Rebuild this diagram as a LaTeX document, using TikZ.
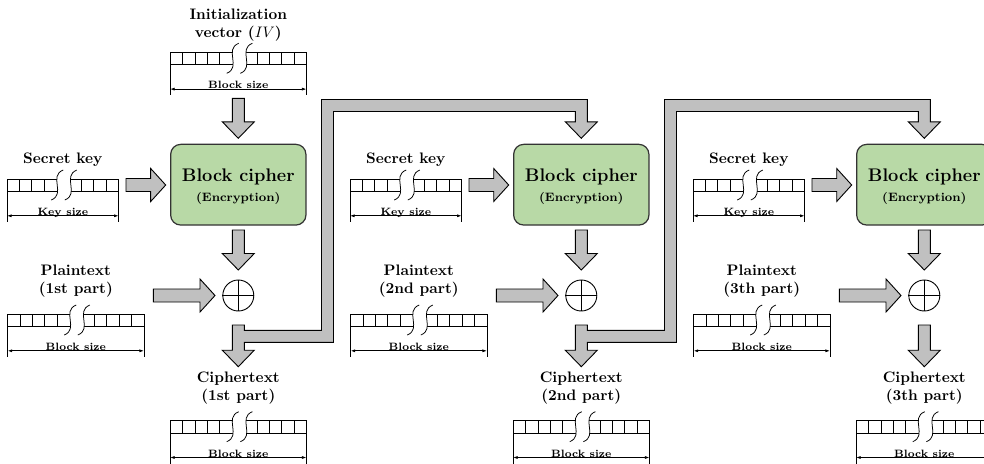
\documentclass[tikz,border=0pt]{standalone}
\usetikzlibrary{calc,arrows.meta}

% one drawing unit
\newlength\pxu
\setlength\pxu{0.6579pt}
\def\cellw{12.4}
\def\cellh{12.3}

\definecolor{cipherfill}{RGB}{184,217,166}
\definecolor{arrowfill}{RGB}{192,192,192}

\tikzset{
  regline/.style={line width=0.5pt},
  dimline/.style={line width=0.5pt,{Latex[length=3pt,width=2pt]}-{Latex[length=3pt,width=2pt]}},
  fatarrow/.style={fill=arrowfill,draw=black,line width=0.6pt,line join=miter},
  cipherbox/.style={draw=black!80,line width=0.8pt,fill=cipherfill,rounded corners=6.6pt,
    minimum width=89pt,minimum height=53.1pt,inner sep=0pt},
  lbl/.style={font=\bfseries,inner sep=0pt,anchor=base},
  sizetext/.style={font=\scriptsize\bfseries,inner sep=0pt,anchor=base},
  xorop/.style={circle,draw,line width=0.6pt,minimum size=20.4pt,inner sep=0pt}
}

% wide grey arrow pointing down, shaft top #1, tip #2
\newcommand\fatdown[2]{%
  \draw[fatarrow] let \p1=(#1), \p2=(#2) in
    (\x1-6*\pxu,\y1) -- (\x1+6*\pxu,\y1) -- (\x1+6*\pxu,\y2+16.5*\pxu)
    -- (\x1+16*\pxu,\y2+16.5*\pxu) -- (\x1,\y2) -- (\x1-16*\pxu,\y2+16.5*\pxu)
    -- (\x1-6*\pxu,\y2+16.5*\pxu) -- cycle;}

% wide grey arrow pointing right, tail #1, tip #2
\newcommand\fatright[2]{%
  \draw[fatarrow] let \p1=(#1), \p2=(#2) in
    (\x1,\y1+6.5*\pxu) -- (\x2-15*\pxu,\y1+6.5*\pxu) -- (\x2-15*\pxu,\y1+16.5*\pxu)
    -- (\x2,\y1) -- (\x2-15*\pxu,\y1-16.5*\pxu) -- (\x2-15*\pxu,\y1-6.5*\pxu)
    -- (\x1,\y1-6.5*\pxu) -- cycle;}

% output arrow with the feedback branch to the next cipher:
% #1 shaft top, #2 output tip, #3 lower bend, #4 upper bend, #5 feedback tip
\newcommand\feedback[5]{%
  \draw[fatarrow] let \p1=(#1), \p2=(#2), \p3=(#3), \p4=(#4), \p5=(#5) in
    (\x1-6*\pxu,\y1) -- (\x1+6*\pxu,\y1) -- (\x1+6*\pxu,\y3+6*\pxu)
    -- (\x3-6*\pxu,\y3+6*\pxu) -- (\x3-6*\pxu,\y4+6*\pxu) -- (\x5+6*\pxu,\y4+6*\pxu)
    -- (\x5+6*\pxu,\y5+16.5*\pxu) -- (\x5+16*\pxu,\y5+16.5*\pxu) -- (\x5,\y5)
    -- (\x5-16*\pxu,\y5+16.5*\pxu) -- (\x5-6*\pxu,\y5+16.5*\pxu)
    -- (\x5-6*\pxu,\y4-6*\pxu) -- (\x3+6*\pxu,\y4-6*\pxu) -- (\x3+6*\pxu,\y3-6*\pxu)
    -- (\x1+6*\pxu,\y3-6*\pxu) -- (\x1+6*\pxu,\y2+16.5*\pxu)
    -- (\x1+16*\pxu,\y2+16.5*\pxu) -- (\x1,\y2) -- (\x1-16*\pxu,\y2+16.5*\pxu)
    -- (\x1-6*\pxu,\y2+16.5*\pxu) -- cycle;}

% register with a break and its size dimension:
% #1 name, #2 left x, #3 top y, #4 cells, #5 size text
\newcommand\register[5]{%
  \begin{scope}[shift={(#2,#3)}]
    \pgfmathsetmacro\regw{#4*\cellw}
    \pgfmathtruncatemacro\kl{(#4-3)/2}
    \pgfmathtruncatemacro\kr{(#4+3)/2}
    \pgfmathtruncatemacro\kn{#4-1}
    \pgfmathsetmacro\bl{(\kl+1.05)*\cellw}
    \pgfmathsetmacro\br{(\kl+2.15)*\cellw}
    \coordinate (#1) at (0,0);
    \draw[regline] (0,0) rectangle (\regw,\cellh);
    \foreach \k in {1,...,\kl} {\draw[regline] (\k*\cellw,0) -- (\k*\cellw,\cellh);}
    \foreach \k in {\kr,...,\kn} {\draw[regline] (\k*\cellw,0) -- (\k*\cellw,\cellh);}
    \fill[white] (\bl-6,21) .. controls (\bl+9,15) and (\bl-9,-3) .. (\bl+6,-9)
      -- (\br+6,-9) .. controls (\br-9,-3) and (\br+9,15) .. (\br-6,21) -- cycle;
    \draw[regline] (\bl-6,21) .. controls (\bl+9,15) and (\bl-9,-3) .. (\bl+6,-9);
    \draw[regline] (\br-6,21) .. controls (\br+9,15) and (\br-9,-3) .. (\br+6,-9);
    \draw[regline] (0,\cellh) -- (0,\cellh+30.5) (\regw,\cellh) -- (\regw,\cellh+30.5);
    \draw[dimline] (0,\cellh+24.5) -- (\regw,\cellh+24.5);
    \node[sizetext] (#1-size) at (\regw/2,\cellh+24) {#5};
  \end{scope}}

\begin{document}
\begin{tikzpicture}[x=\pxu,y=-\pxu]
  \useasboundingbox (0,0) rectangle (984,463);

  % initialization vector
  \node[lbl] (iv-t1) at (238.3,19) {Initialization};
  \node[lbl] (iv-t2) at (238.3,37.7) {vector ($IV$)};
  \register{iv}{170.1}{52.3}{11}{Block size}
  \coordinate (ivarr-s) at (238.3,98.3);
  \coordinate (ivarr-t) at (238.3,138.3);
  \fatdown{ivarr-s}{ivarr-t}

  \foreach \i/\ord in {0/1st,1/2nd,2/3th} {
    \pgfmathsetmacro\bdx{343*\i}
    \pgfmathsetmacro\bcx{238.3+343*\i}

    % block cipher
    \node[cipherbox] (cipher\i) at (\bcx,184.7) {};
    \node[font=\large\bfseries,inner sep=0pt,anchor=base] (cipher\i-a) at (\bcx,181) {Block cipher};
    \node[font=\footnotesize\bfseries,inner sep=0pt,anchor=base] (cipher\i-b) at (\bcx,201) {(Encryption)};

    % secret key
    \node[lbl] (key\i-t) at (62.8+\bdx,163.3) {Secret key};
    \register{key\i}{7.0+\bdx}{179}{9}{Key size}
    \coordinate (keyarr\i-s) at (126+\bdx,185);
    \coordinate (keyarr\i-t) at (165.7+\bdx,185);
    \fatright{keyarr\i-s}{keyarr\i-t}

    % cipher output into the xor
    \coordinate (enc\i-s) at (\bcx,230);
    \coordinate (enc\i-t) at (\bcx,270);
    \fatdown{enc\i-s}{enc\i-t}
    \node[xorop] (xor\i) at (\bcx,295.5) {};
    \draw[line width=0.6pt] (xor\i.north) -- (xor\i.south) (xor\i.west) -- (xor\i.east);

    % plaintext
    \node[lbl] (pt\i-t1) at (75.8+\bdx,275.5) {Plaintext};
    \node[lbl] (pt\i-t2) at (75.8+\bdx,293.5) {(\ord\ part)};
    \register{pt\i}{7.6+\bdx}{314}{11}{Block size}
    \coordinate (ptarr\i-s) at (153.3+\bdx,295.5);
    \coordinate (ptarr\i-t) at (215+\bdx,295.5);
    \fatright{ptarr\i-s}{ptarr\i-t}

    % ciphertext
    \coordinate (out\i-s) at (\bcx,325);
    \coordinate (out\i-t) at (\bcx,366.7);
    \ifnum\i<2
      \coordinate (fb\i-lo) at (\bcx+89.2,336.3);
      \coordinate (fb\i-hi) at (\bcx+89.2,105.5);
      \coordinate (fb\i-t) at (\bcx+343,138.3);
      \feedback{out\i-s}{out\i-t}{fb\i-lo}{fb\i-hi}{fb\i-t}
    \else
      \fatdown{out\i-s}{out\i-t}
    \fi
    \node[lbl] (ct\i-t1) at (\bcx,382) {Ciphertext};
    \node[lbl] (ct\i-t2) at (\bcx,400) {(\ord\ part)};
    \register{ct\i}{\bcx-68.2}{420.7}{11}{Block size}
  }
\end{tikzpicture}
\end{document}
